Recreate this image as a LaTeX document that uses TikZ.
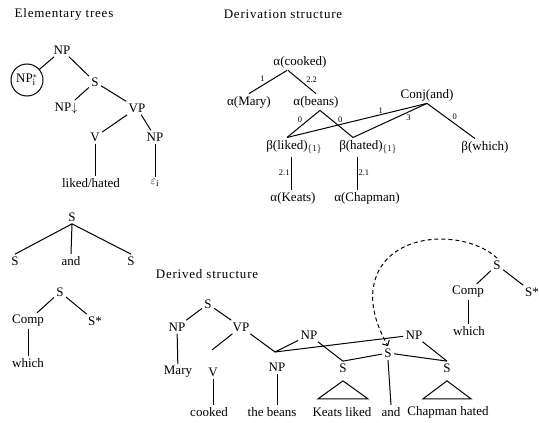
\documentclass[tikz,border=0pt]{standalone}
\usepackage{fontspec}
\setmainfont{Liberation Serif}
\newfontfamily\titlefont[LetterSpace=6]{Liberation Serif}
\usetikzlibrary{arrows.meta}
\tikzset{
  lab/.style={font=\fontsize{8.5}{9}\selectfont, inner sep=1pt},
  headline/.style={font=\fontsize{13}{15}\titlefont},
  dashlink/.style={dashed, dash pattern=on 4pt off 3pt, -{Straight Barb[length=4pt]}}
}
\begin{document}
\begin{tikzpicture}[x=1pt, y=-1pt, line width=1pt, font=\fontsize{13}{15}\selectfont, every node/.append style={inner sep=2pt}]
\useasboundingbox (0,0) rectangle (539,423);

% elementary trees
\node[headline] (eltitle) at (64,14) {Elementary trees};
\node (np1) at (62,50) {NP};
\node[draw, circle, inner sep=0pt, minimum size=32pt] (npi) at (27,80) {NP$^*_{\mathrm{i}}$};
\node (s1) at (95,82) {S};
\node (npd) at (66,108) {NP$\downarrow$};
\node (vp1) at (137,108) {VP};
\node (v1) at (95,137) {V};
\node (np2) at (155,137) {NP};
\node (lh) at (91,183) {liked/hated};
\node (eps) at (155,183) {$\varepsilon_{\mathrm{i}}$};

\draw (np1) -- (npi);
\draw (np1) -- (s1);
\draw (s1) -- (npd);
\draw (s1) -- (vp1);
\draw (vp1) -- (v1);
\draw (vp1) -- (np2);
\draw (v1.south) -- (v1.south |- lh.north);
\draw (np2.south) -- (np2.south |- eps.north);

\node (cs) at (72,217) {S};
\node (cl) at (15,261) {S};
\node (cand) at (71,261) {and};
\node (cr) at (131,261) {S};
\draw (cs.south) -- (cl.north);
\draw (cs.south) -- (cand.north);
\draw (cs.south) -- (cr.north);

\node (ws) at (60,292) {S};
\node (comp1) at (28,321) {Comp};
\node (sstar1) at (95,321) {S*};
\node (which1) at (28,363) {which};
\draw (ws) -- (comp1);
\draw (ws) -- (sstar1);
\draw (comp1) -- (which1);

% derivation structure
\node[headline] (dtitle) at (283,14) {Derivation structure};
\node (dcook) at (300,62) {α(cooked)};
\node (dmary) at (249,102) {α(Mary)};
\node (dbeans) at (316,102) {α(beans)};
\node (dconj) at (427,95) {Conj(and)};
\node (dliked) at (287,147) {β(liked)\rlap{$_{\{1\}}$}};
\node (dhated) at (361,147) {β(hated)\rlap{$_{\{1\}}$}};
\node (dwhich) at (485,147) {β(which)};
\node (dkeats) at (293,198) {α(Keats)};
\node (dchap) at (367,198) {α(Chapman)};

\draw ([xshift=-13pt]dcook.south) -- (dmary.north) node[pos=0.55, above left, lab] {1};
\draw ([xshift=-12pt]dcook.south) -- (dbeans.north) node[pos=0.6, above right, lab] {2.2};
\draw ([xshift=4pt]dbeans.south) -- (dliked.north) node[midway, above left, lab] {0};
\draw ([xshift=4pt]dbeans.south) -- ([xshift=-8pt]dhated.north) node[midway, above right, lab] {0};
\draw (dconj.south) -- (dliked.north) node[pos=0.33, above, lab] {1};
\draw (dconj.south) -- ([xshift=-8pt]dhated.north) node[pos=0.3, below right, lab] {3};
\draw (dconj.south) -- ([xshift=-10pt]dwhich.north) node[midway, above right, lab] {0};
\draw ([xshift=4pt]dliked.south) -- ([xshift=4pt]dliked.south |- dkeats.north) node[midway, left, lab] {2.1};
\draw ([xshift=-4pt]dhated.south) -- ([xshift=-4pt]dhated.south |- dchap.north) node[midway, right, lab] {2.1};

% derived structure
\node[headline] (drtitle) at (207,274) {Derived structure};
\node (ds) at (208,304) {S};
\node (dnp1) at (177,327) {NP};
\node (dvp) at (241,327) {VP};
\node (mary) at (178,372) {Mary};
\coordinate (vtop) at (212,350);
\node (dv) at (213,372) {V};
\node (cooked) at (209,412) {cooked};
\coordinate (npstar) at (275,352);
\node (dnp2) at (277,367) {NP};
\node (beans) at (272,412) {the beans};
\node (npl) at (309,335) {NP};
\node (sl) at (343,368) {S};
\node (keats) at (342,412) {Keats liked};
\node (sc) at (388,353) {S};
\node (andw) at (391,412) {and};
\node (nph) at (414,335) {NP};
\node (sh) at (447,368) {S};
\node (chap) at (448,412) {Chapman hated};
\node (wS) at (497,265) {S};
\node (wcomp) at (468,292) {Comp};
\node (wsstar) at (532,292) {S*};
\node (wwhich) at (469,331) {which};

\draw (ds) -- (dnp1);
\draw (ds) -- (dvp);
\draw (dnp1) -- (mary);
\draw (dvp) -- (vtop);
\draw (dv.south) -- (dv.south |- cooked.north);
\draw (dvp) -- (npstar);
\draw (npstar) -- (npl);
\draw (npstar) -- (nph);
\draw (dnp2.south) -- (dnp2.south |- beans.north);
\draw (npl) -- (sl.north);
\draw (sc) -- (sl.north);
\draw (sc.south) -- (andw.north);
\draw (sc) -- (sh.north);
\draw (nph) -- (sh.north);
\draw ([yshift=-6pt]sl.south) -- ++(-25,18) -- ++(50,0) -- cycle;
\draw ([yshift=-6pt]sh.south) -- ++(-24,18) -- ++(48,0) -- cycle;
\draw (wS) -- (wcomp);
\draw (wS) -- (wsstar);
\draw (wcomp.south) -- (wcomp.south |- wwhich.north);
\draw[dashlink] (wS.north) .. controls (465,228) and (380,230) .. (373,290)
  .. controls (371,310) and (378,328) .. (sc.north);
\end{tikzpicture}
\end{document}
